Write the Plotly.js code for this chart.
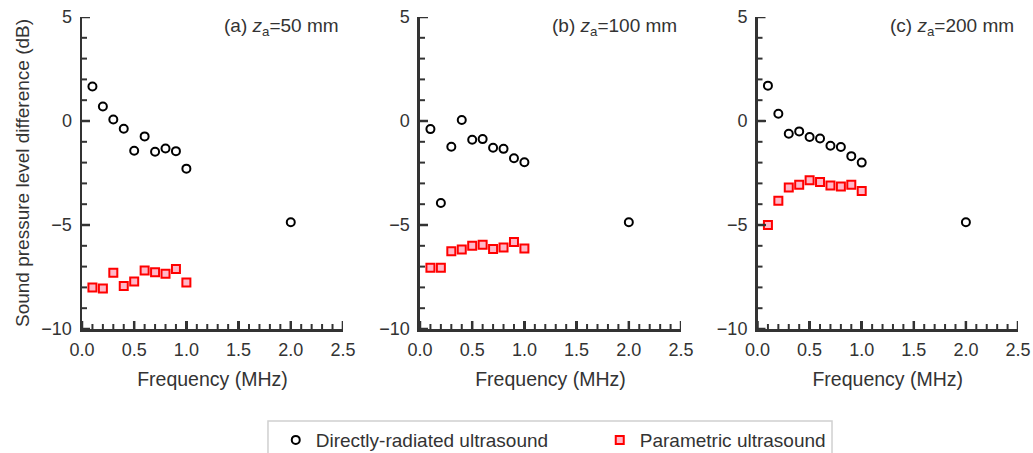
<!DOCTYPE html>
<html>
<head>
<meta charset="utf-8">
<script src="https://cdn.plot.ly/plotly-3.0.1.min.js"></script>
<style>html,body{margin:0;padding:0;background:#fff;}#chart{width:1033px;height:453px;}</style>
</head>
<body>
<div id="chart"></div>
<script>
// Frequencies (MHz)
const freqDirect = [0.1, 0.2, 0.3, 0.4, 0.5, 0.6, 0.7, 0.8, 0.9, 1.0, 2.0];
const freqParam = [0.1, 0.2, 0.3, 0.4, 0.5, 0.6, 0.7, 0.8, 0.9, 1.0];

// (a) z_a = 50 mm
const directA = [1.66, 0.70, 0.07, -0.37, -1.43, -0.74, -1.48, -1.32, -1.45, -2.29, -4.87];
const paramA = [-8.01, -8.05, -7.30, -7.93, -7.72, -7.19, -7.27, -7.34, -7.11, -7.76];
// (b) z_a = 100 mm
const directB = [-0.39, -3.94, -1.24, 0.05, -0.90, -0.87, -1.29, -1.34, -1.79, -1.98, -4.87];
const paramB = [-7.06, -7.05, -6.26, -6.18, -6.00, -5.95, -6.15, -6.08, -5.82, -6.13];
// (c) z_a = 200 mm
const directC = [1.70, 0.35, -0.61, -0.50, -0.77, -0.84, -1.19, -1.25, -1.69, -2.00, -4.87];
const paramC = [-5.00, -3.83, -3.20, -3.06, -2.85, -2.93, -3.10, -3.15, -3.07, -3.37];

// Tick values
const xMajorTicks = [0, 0.5, 1.0, 1.5, 2.0, 2.5];
const xMinorTicks = [0.1, 0.2, 0.3, 0.4, 0.6, 0.7, 0.8, 0.9, 1.1, 1.2, 1.3, 1.4, 1.6, 1.7, 1.8, 1.9, 2.1, 2.2, 2.3, 2.4];
const yMajorTicks = [-10, -5, 0, 5];
const yMinorTicks = [-9, -8, -7, -6, -4, -3, -2, -1, 1, 2, 3, 4];

const panelLabels = ['(a) <i>z</i><sub>a</sub>=50 mm', '(b) <i>z</i><sub>a</sub>=100 mm', '(c) <i>z</i><sub>a</sub>=200 mm'];
const seriesNames = ['Directly-radiated ultrasound', 'Parametric ultrasound'];
const xTitle = 'Frequency (MHz)';
const yTitle = 'Sound pressure level difference (dB)';

const directSets = [directA, directB, directC];
const paramSets = [paramA, paramB, paramC];

const textColor = '#333333';
const traces = [];
for (let i = 0; i < 3; i++) {
  const xa = i === 0 ? 'x' : 'x' + (i + 1);
  const ya = i === 0 ? 'y' : 'y' + (i + 1);
  traces.push({
    x: freqDirect, y: directSets[i], xaxis: xa, yaxis: ya,
    type: 'scatter', mode: 'markers', name: seriesNames[0],
    legendgroup: 'd', showlegend: i === 0,
    marker: {symbol: 'circle-open', size: 8, color: '#000000', line: {width: 2, color: '#000000'}},
    cliponaxis: false
  });
  traces.push({
    x: freqParam, y: paramSets[i], xaxis: xa, yaxis: ya,
    type: 'scatter', mode: 'markers', name: seriesNames[1],
    legendgroup: 'p', showlegend: i === 0,
    marker: {symbol: 'square', size: 8, color: '#ffb8c8', line: {width: 2, color: '#ff0000'}},
    cliponaxis: false
  });
}

const domains = [[0, 0.2788], [0.3611, 0.6400], [0.7217, 1.0]];
const layout = {
  width: 1033, height: 453,
  margin: {l: 82, r: 15, t: 17, b: 124, autoexpand: false},
  font: {family: 'Liberation Sans, Arial, sans-serif', size: 18, color: textColor},
  showlegend: true,
  legend: {
    orientation: 'h', x: 0.207, xanchor: 'left', y: -0.295, yanchor: 'top',
    borderwidth: 0, font: {size: 19, color: textColor},
    entrywidth: 279, entrywidthmode: 'pixels', bgcolor: 'rgba(0,0,0,0)'
  },
  shapes: [{
    type: 'rect', xref: 'paper', yref: 'paper',
    x0: 0.1987, x1: 0.8013, y0: -0.2949, y1: -0.42,
    line: {color: '#d0d0d0', width: 1.5}, fillcolor: 'rgba(0,0,0,0)', layer: 'above'
  }],
  annotations: []
};

function addTicks(sx) {
  const xr = 'x' + sx, yr = 'y' + sx;
  const addX = (vals, len, w) => vals.forEach(v => layout.shapes.push({
    type: 'line', xref: xr, yref: yr + ' domain', ysizemode: 'pixel', yanchor: 0,
    x0: v, x1: v, y0: 0, y1: len, line: {color: textColor, width: w}, layer: 'above'
  }));
  const addY = (vals, len, w) => vals.forEach(v => layout.shapes.push({
    type: 'line', xref: xr + ' domain', yref: yr, xsizemode: 'pixel', xanchor: 0,
    x0: 0, x1: len, y0: v, y1: v, line: {color: textColor, width: w}, layer: 'above'
  }));
  addX(xMajorTicks, 8, 2.5);
  addX(xMinorTicks, 5, 2);
  addY(yMajorTicks, 8, 2.5);
  addY(yMinorTicks, 5, 2);
}

for (let i = 0; i < 3; i++) {
  const sx = i === 0 ? '' : String(i + 1);
  layout['xaxis' + sx] = {
    domain: domains[i], anchor: 'y' + sx, range: [0, 2.5],
    tickvals: xMajorTicks, tickformat: '.1f',
    ticks: 'inside', ticklen: 8, tickwidth: 2.5, tickcolor: textColor,
    showline: true, linewidth: 2.5, linecolor: textColor, mirror: false,
    showgrid: false, zeroline: false,
    tickfont: {size: 18, color: textColor}, ticklabelstandoff: 3,
    title: {text: xTitle, font: {size: 19.5, color: textColor}, standoff: 14}
  };
  const yax = {
    domain: [0, 1], anchor: 'x' + sx, range: [-10, 5],
    tickvals: yMajorTicks,
    ticks: 'inside', ticklen: 8, tickwidth: 2.5, tickcolor: textColor,
    showline: true, linewidth: 2.5, linecolor: textColor, mirror: false,
    showgrid: false, zeroline: false,
    tickfont: {size: 18, color: textColor}, ticklabelstandoff: 4
  };
  if (i === 0) yax.title = {text: yTitle, font: {size: 19, color: textColor}, standoff: 7};
  layout['yaxis' + sx] = yax;
  layout.annotations.push({
    text: panelLabels[i], xref: 'x' + sx + ' domain', yref: 'y' + sx + ' domain',
    x: 0.992, y: 0.968, xanchor: 'right', yanchor: 'middle', showarrow: false,
    font: {size: 19, color: textColor}
  });
  addTicks(sx);
}

Plotly.newPlot('chart', traces, layout, {staticPlot: true});
</script>
</body>
</html>
